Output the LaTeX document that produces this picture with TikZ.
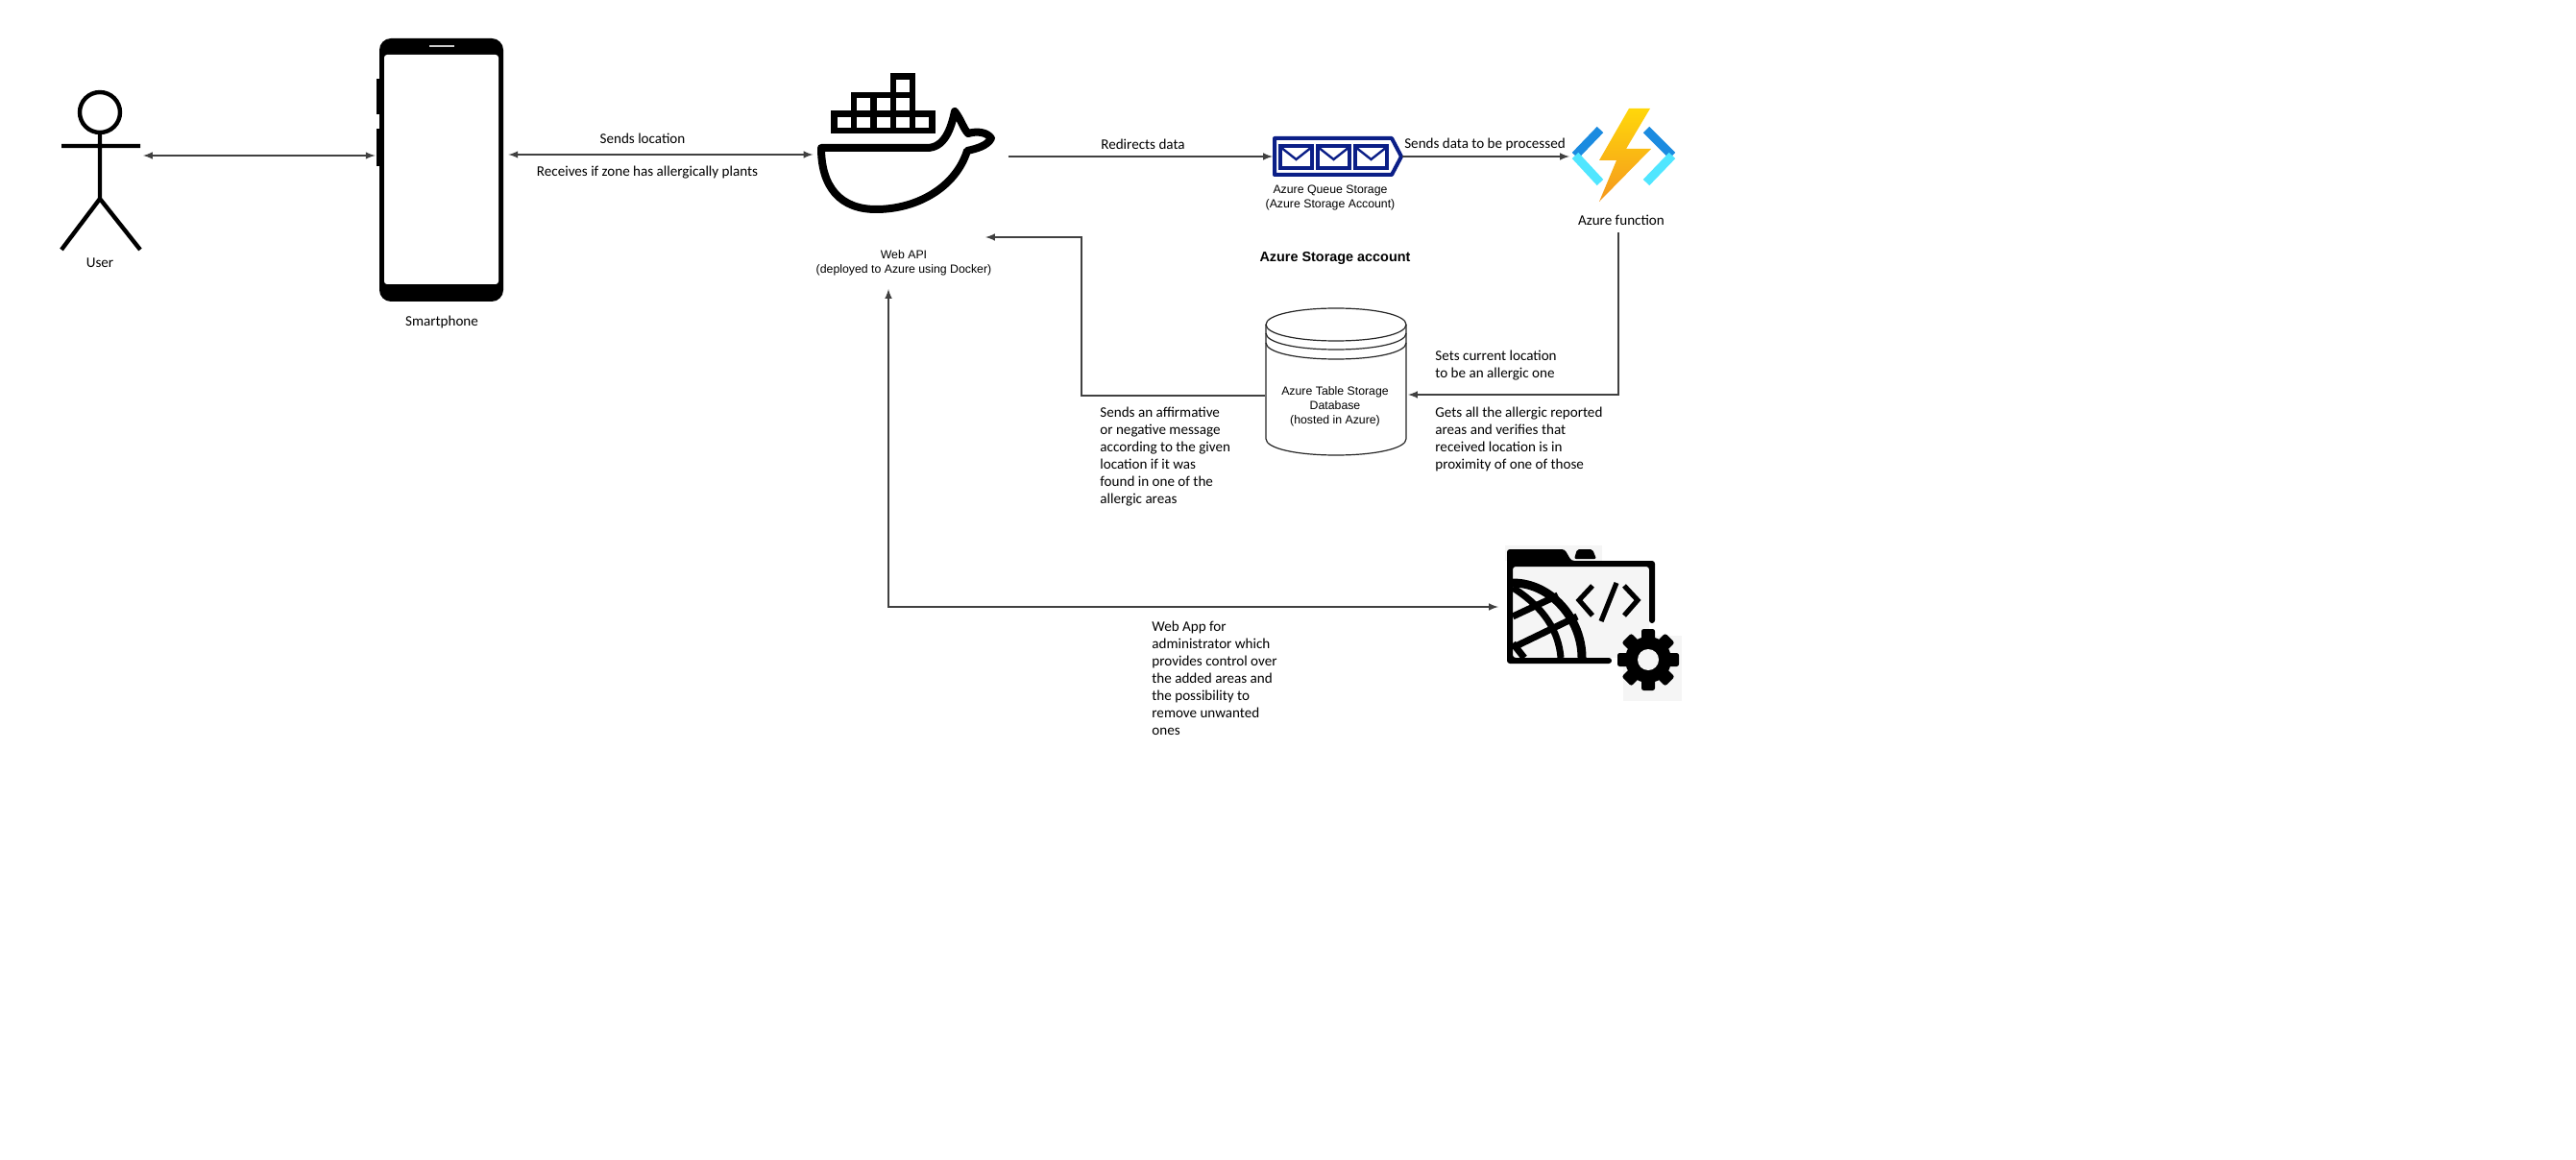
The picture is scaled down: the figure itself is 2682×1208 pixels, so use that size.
\documentclass[tikz,border=0pt]{standalone}
\usepackage{fontspec}
\setmainfont{Carlito}
\newfontfamily\arialfont{Liberation Sans}
\usepackage{tikz}
\usetikzlibrary{positioning,shapes,calc,fit}

\definecolor{queueblue}{HTML}{0B1F87}
\definecolor{boltyellow}{HTML}{FFD70A}
\definecolor{boltorange}{HTML}{F5981E}
\definecolor{bracketdark}{HTML}{1B8BE0}
\definecolor{bracketlight}{HTML}{50E6FF}
\definecolor{panelgray}{HTML}{F5F5F5}

\begin{document}
\begin{tikzpicture}[x=0.5pt,y=-0.5pt]
		\tikzset{flowedge/.style={line width=0.7pt,black!75,>=latex}}
		\tikzset{iconslot/.style={inner sep=0pt,outer sep=0pt}}
		\tikzset{notestyle/.style={inner sep=0pt,font=\fontsize{7.55}{9}\selectfont}}
		\tikzset{azurestyle/.style={inner sep=0pt,font=\arialfont\fontsize{6.15}{7.5}\selectfont}}
		\tikzset{stickline/.style={line width=2.2pt,black}}
		\tikzset{whaleline/.style={line width=4pt,black,line join=round}}
		\tikzset{whalebox/.style={line width=3.2pt,black}}
		\tikzset{boltbracket/.style={line width=4.5pt}}
		\tikzset{globeline/.style={line width=3.5pt,black}}
		\tikzset{codeline/.style={line width=2.6pt,black}}
		
		\useasboundingbox (0,0) rectangle (2682,1208);
		
		\newcommand\drawLabel[4] % {x} {y} {text} {name}
		{
			\node[notestyle, align=center] at (#1, #2) (#4) {#3};
		}
		
		\newcommand\drawNote[4] % {x} {y} {text} {name}
		{
			\node[notestyle, align=left, anchor=west] at (#1, #2) (#4) {#3};
		}
		
		\newcommand\drawAzureLabel[4] % {x} {y} {text} {name}
		{
			\node[azurestyle, align=center] at (#1, #2) (#4) {#3};
		}
		
		% user
		\node[iconslot, minimum width=42.5pt, minimum height=50pt] at (106.5,162) (user) {};
		\draw[stickline] (104,117) circle[radius=21];
		\draw[stickline]
		(64,152) to (146,152)
		(104,138) to (104,207)
		(104,207) to (64,260)
		(104,207) to (146,260);
		\drawLabel{104}{274}{User}{userLabel}
		
		% smartphone
		\node[fill=black, rounded corners=6pt, inner sep=0pt, minimum width=64.5pt, minimum height=137pt] at (459.5,177) (phone) {};
		\node[fill=white, rounded corners=1.5pt, inner sep=0pt, minimum width=59.5pt, minimum height=119.5pt] at (459.5,176.5) (screen) {};
		\draw[white!80!black, line width=0.8pt] (447,48) to (473,48);
		\fill[black] (392,82) rectangle (396,119);
		\fill[black] (392,134) rectangle (396,173);
		\drawLabel{460}{335}{Smartphone}{phoneLabel}
		
		% docker whale
		\node[iconslot, minimum width=101.5pt, minimum height=70pt] at (948,163) (whale) {};
		\foreach \col in {0,...,4}
			\draw[whalebox] ({868.5+\col*20.4},118.5) rectangle ++(20.4,17.5);
		\foreach \col in {1,...,3}
			\draw[whalebox] ({868.5+\col*20.4},99) rectangle ++(20.4,19.5);
		\draw[whalebox] ({868.5+3*20.4},79.5) rectangle ++(20.4,19.5);
		\draw[whaleline] (855,154) -- (965,154)
		.. controls (983,154) and (990,135) .. (994,116)
		.. controls (1001,125) and (1003,134) .. (1008,139)
		.. controls (1018,136) and (1028,138) .. (1032,144)
		.. controls (1028,152) and (1016,155) .. (1007,157)
		.. controls (995,195) and (955,218) .. (912,218)
		.. controls (875,218) and (855,195) .. (855,154) -- cycle;
		\drawAzureLabel{941}{273.5}{Web API\\(deployed to Azure using Docker)}{whaleLabel}
		
		% queue
		\node[iconslot, minimum width=67.5pt, minimum height=20pt] at (1392.5,163) (queue) {};
		\draw[queueblue, line width=2pt, line join=round] (1327,144) -- (1449,144) -- (1459,163) -- (1449,182) -- (1327,182) -- cycle;
		\foreach \env in {1333,1372,1411}
		{
			\draw[queueblue, line width=1.6pt] (\env,152) rectangle ++(33,23);
			\draw[queueblue, line width=1.2pt] (\env,153) -- ++(16.5,13) -- ++(16.5,-13);
		}
		\drawAzureLabel{1385}{205.5}{Azure Queue Storage\\(Azure Storage Account)}{queueLabel}
		
		% function
		\node[iconslot, minimum width=55.5pt, minimum height=50pt] at (1689.5,163) (func) {};
		\draw[boltbracket, bracketdark] (1666,135) -- (1640,162);
		\draw[boltbracket, bracketlight] (1640,162) -- (1666,190);
		\draw[boltbracket, bracketdark] (1714,135) -- (1741,162);
		\draw[boltbracket, bracketlight] (1741,162) -- (1714,190);
		\shade[top color=boltyellow, bottom color=boltorange] (1696,113) -- (1718,113) -- (1693,155) -- (1719,155) -- (1665,210) -- (1683,167) -- (1665,167) -- cycle;
		\drawLabel{1688}{229}{Azure function}{funcLabel}
		\coordinate (funcOut) at (1685,242);
		
		\node[azurestyle, font=\arialfont\bfseries\fontsize{7.2}{9}\selectfont] at (1390,269) (storageLabel) {Azure Storage account};
		
		% table storage
		\node[iconslot, minimum width=73pt, minimum height=76.5pt] at (1391,397.5) (tableDb) {};
		\draw[black!85, line width=0.6pt, fill=white]
		(1318,338) .. controls (1318,328) and (1350,321) .. (1391,321)
		.. controls (1432,321) and (1464,328) .. (1464,338)
		-- (1464,457)
		.. controls (1464,467) and (1432,474) .. (1391,474)
		.. controls (1350,474) and (1318,467) .. (1318,457) -- cycle;
		\draw[black!85, line width=0.6pt]
		(1318,338) .. controls (1318,348) and (1350,355) .. (1391,355) .. controls (1432,355) and (1464,348) .. (1464,338)
		(1318,347) .. controls (1318,357) and (1350,364) .. (1391,364) .. controls (1432,364) and (1464,357) .. (1464,347)
		(1318,357) .. controls (1318,367) and (1350,374) .. (1391,374) .. controls (1432,374) and (1464,367) .. (1464,357);
		\drawAzureLabel{1390}{423}{Azure Table Storage\\Database\\(hosted in Azure)}{tableLabel}
		
		% web app
		\node[iconslot, minimum width=95.5pt, minimum height=80pt] at (1655.5,632) (webApp) {};
		\fill[panelgray] (1567,568) rectangle (1668,584);
		\fill[panelgray] (1575,590) rectangle (1717,685);
		\fill[panelgray] (1690,662) rectangle (1751,730);
		\fill[black, rounded corners=1.5pt] (1569,572) -- (1629,572) -- (1636,584) -- (1723,584) -- (1723,649) -- (1717,649) -- (1717,590) -- (1575,590) -- (1575,685) -- (1678,685) -- (1678,691) -- (1569,691) -- cycle;
		\fill[black, rounded corners=1pt] (1639,582) -- (1642,572) -- (1658,572) -- (1662,582) -- cycle;
		\draw[line width=4.5pt, black] (1575,607) .. controls (1615,607) and (1647,645) .. (1647,685);
		\draw[globeline]
		(1575,612) .. controls (1600,628) and (1622,650) .. (1625,685)
		(1575,642) to (1622,620)
		(1576,674) to (1642,642)
		(1575,670) to (1587,685);
		\draw[codeline]
		(1658,610) -- (1644,625) -- (1658,641)
		(1683,607) -- (1667,647)
		(1691,610) -- (1705,625) -- (1691,641);
		\coordinate (gearCenter) at (1716,687);
		\foreach \tooth in {0,45,...,315}
			\fill[black, rounded corners=1.2pt, rotate around={\tooth:(gearCenter)}] (1709,655) rectangle (1723,675);
		\fill[black] (gearCenter) circle[radius=24];
		\fill[panelgray] (gearCenter) circle[radius=11];
		
		\draw[flowedge, <->] (user) to ($(phone.west) + (-4,-15)$);
		\draw[flowedge, <->] ($(phone.east) + (5,-16)$) to ($(whale.west) + (0,-2)$);
		\draw[flowedge, ->] (whale) to (queue);
		\draw[flowedge, ->] (queue) to (func);
		\draw[flowedge, ->] (funcOut) |- ($(tableDb.east) + (2,13.5)$);
		
		\coordinate (apiIn) at (1026,247);
		\coordinate (apiBend) at (1126,247);
		\draw[flowedge, ->] ($(tableDb.west) + (-1,14.5)$) -| (apiBend) -- (apiIn);
		
		\coordinate (apiDown) at (925,301);
		\draw[flowedge, <->] (webApp) -| (apiDown);
		
		\drawLabel{669}{144}{Sends location}{sendsLabel}
		\drawLabel{674}{180}{Receives if zone has allergically plants}{receivesLabel}
		\drawLabel{1190}{150}{Redirects data}{redirectLabel}
		\drawLabel{1546}{150}{Sends data to be processed}{processLabel}
		
		\drawNote{1494}{381}{Sets current location\\to be an allergic one}{setsNote}
		\drawNote{1494}{457}{Gets all the allergic reported\\areas and verifies that\\received location is in\\proximity of one of those}{getsNote}
		\drawNote{1145}{476}{Sends an affirmative\\or negative message\\according to the given\\location if it was\\found in one of the\\allergic areas}{answerNote}
		\drawNote{1199}{706}{Web App for\\administrator which\\provides control over\\the added areas and\\the possibility to\\remove unwanted\\ones}{webAppNote}
		
\end{tikzpicture}
\end{document}
